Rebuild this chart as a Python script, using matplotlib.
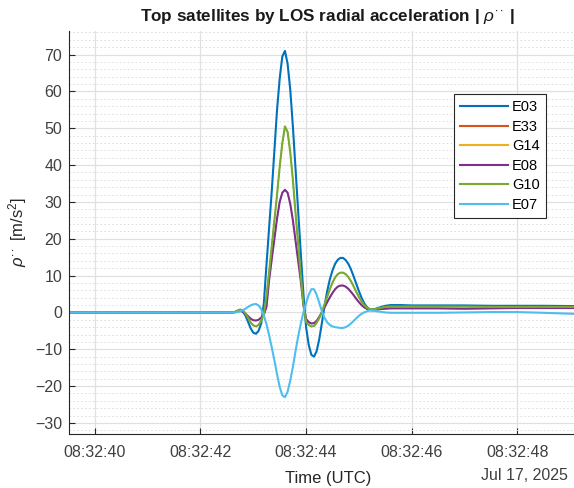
import matplotlib
matplotlib.use("Agg")
import matplotlib.pyplot as plt
from matplotlib.ticker import MultipleLocator

plt.rcParams["font.family"] = ["Liberation Sans", "DejaVu Sans"]
plt.rcParams["mathtext.fontset"] = "custom"
plt.rcParams["mathtext.rm"] = "Liberation Sans"
plt.rcParams["mathtext.it"] = "Liberation Sans:italic"

# time in seconds after 08:32:00 UTC, Jul 17 2025
t = [39.5, 40.5, 41.5, 42.5, 42.6,
     42.65, 42.7, 42.75, 42.8, 42.85, 42.9, 42.95, 43.0, 43.05, 43.1, 43.15,
     43.2, 43.25, 43.3, 43.35, 43.4, 43.45, 43.5, 43.55, 43.6, 43.65, 43.7,
     43.75, 43.8, 43.85, 43.9, 43.95, 44.0, 44.05, 44.1, 44.15, 44.2, 44.25,
     44.3, 44.35, 44.4, 44.45, 44.5, 44.55, 44.6, 44.65, 44.7, 44.75, 44.8,
     44.85, 44.9, 44.95, 45.0, 45.05, 45.1, 45.15, 45.2, 45.25, 45.3,
     45.4, 45.5, 45.6, 45.8, 46.0, 46.5, 47.0, 47.5, 48.0, 48.5, 49.3]

e03 = [0, 0, 0, 0, 0,
       0.1, 0.4, 0.6, 0.3, -0.8, -2.5, -4.3, -5.5, -5.8, -5.0, -3.0,
       2.5, 13, 23, 33, 44, 55, 63.5, 69.5, 71, 67.5, 60.5,
       50.5, 39, 27.5, 16, 5, -4, -8.8, -11.5, -12, -10.5, -7.2,
       -2.8, 1.8, 5.8, 9, 11.4, 13.2, 14.3, 14.8, 14.8, 14.2, 13.2,
       11.7, 9.8, 7.8, 5.8, 4.0, 2.5, 1.5, 0.9, 0.8, 0.9,
       1.4, 1.8, 2.0, 2.0, 1.9, 1.9, 1.9, 1.8, 1.8, 1.8, 1.7]

g10 = [0, 0, 0, 0, 0,
       0.1, 0.5, 0.8, 0.6, -0.2, -1.4, -2.7, -3.5, -3.8, -3.4, -2.2,
       -0.5, 4.5, 11, 18, 25, 32, 39.5, 46, 50.5, 49, 43.5,
       36, 27, 18.5, 10, 2, -2.5, -3.4, -3.8, -3.7, -2.8, -1.5,
       0.2, 2.2, 4.3, 6.3, 8.1, 9.5, 10.4, 10.8, 10.8, 10.4, 9.6,
       8.5, 7.1, 5.6, 4.2, 3.0, 2.0, 1.3, 0.9, 0.8, 0.9,
       1.2, 1.5, 1.6, 1.6, 1.6, 1.6, 1.6, 1.5, 1.5, 1.5, 1.5]

e08 = [0, 0, 0, 0, 0,
       0.1, 0.3, 0.4, 0.2, -0.3, -1.0, -1.7, -2.1, -2.2, -2.0, -1.4,
       -0.6, 1.5, 8.8, 14.5, 20, 25.5, 30, 32.5, 33.3, 32.5, 29.5,
       25, 19.5, 14, 8.5, 2, -1.8, -2.6, -3.0, -2.9, -2.3, -1.2,
       0.1, 1.4, 2.8, 4.1, 5.3, 6.3, 7.0, 7.3, 7.3, 7.0, 6.4,
       5.6, 4.7, 3.7, 2.8, 2.0, 1.4, 1.0, 0.7, 0.6, 0.7,
       0.9, 1.0, 1.1, 1.1, 1.1, 1.1, 1.0, 1.1, 1.2, 1.2, 1.2]

e07 = [0, 0, 0, 0, 0,
       0, 0.1, 0.3, 0.6, 1.0, 1.5, 1.9, 2.2, 2.3, 1.9, 0.9,
       -0.8, -3.2, -6.2, -9.5, -13, -16.8, -20.2, -22.5, -23, -21.5, -18.5,
       -14.8, -10.5, -6.5, -3, 0, 2.5, 4.8, 6.3, 6.3, 4.8, 2.6,
       0.3, -1.5, -2.7, -3.4, -3.8, -4.0, -4.1, -4.2, -4.2, -4.0, -3.6,
       -3.0, -2.3, -1.6, -0.9, -0.4, 0.0, 0.3, 0.5, 0.5, 0.4,
       0.2, 0.0, -0.1, -0.1, -0.1, -0.1, 0.0, 0.1, 0.1, -0.1, -0.5]

# E33 and G14 are not visible: they sit under G10 and E08
e33 = g10
g14 = e08

names = ["E03", "E33", "G14", "E08", "G10", "E07"]
series = [e03, e33, g14, e08, g10, e07]
colors = ["#0072BD", "#D95319", "#EDB120", "#7E2F8E", "#77AC30", "#4DBEEE"]
hidden = ["E33", "G14"]

xticks = [40, 42, 44, 46, 48]
xticklabels = ["08:32:40", "08:32:42", "08:32:44", "08:32:46", "08:32:48"]
yticks = [-30, -20, -10, 0, 10, 20, 30, 40, 50, 60, 70]

fig = plt.figure(figsize=(5.74, 4.88), dpi=100)
ax = fig.add_axes([69 / 574, 54 / 488, 518 / 574, 403 / 488])

for name, y, c in zip(names, series, colors):
    lw = 0.8 if name in hidden else 1.5
    ax.plot(t, y, color=c, lw=lw, label=name)

ax.set_xlim(39.51, 49.32)
ax.set_ylim(-33, 76.4)
ax.set_xticks(xticks)
ax.set_xticklabels(xticklabels)
ax.set_yticks(yticks)
ax.yaxis.set_minor_locator(MultipleLocator(2))

ax.grid(True, which="major", color="#e0e0e0", lw=0.9)
ax.grid(True, which="minor", axis="y", color="#dadada", lw=0.7,
        linestyle=(0, (1.5, 2.5)))
ax.set_axisbelow(True)

for s in ["top", "right"]:
    ax.spines[s].set_visible(False)
for s in ["left", "bottom"]:
    ax.spines[s].set_color("#262626")
    ax.spines[s].set_linewidth(0.8)

ax.tick_params(which="major", direction="in", length=4, width=0.8,
               color="#262626", labelcolor="#404040", labelsize=11.5)
ax.tick_params(axis="x", pad=8)
ax.tick_params(axis="y", pad=5)
ax.tick_params(which="minor", length=0)

ax.set_title(r"Top satellites by LOS radial acceleration | $\rho^{\cdot\cdot}$ |",
             fontsize=12.3, fontweight="bold", color="#1a1a1a", pad=7)
ax.set_xlabel("Time (UTC)", fontsize=12, color="#262626", labelpad=8)
ax.set_ylabel(r"$\rho^{\cdot\cdot}$ [m/s$^2$]", fontsize=12, color="#262626",
              labelpad=4)
fig.text(568 / 574, 1 - 475 / 488, "Jul 17, 2025", ha="right", va="center",
         fontsize=11.5, color="#404040")

leg = ax.legend(loc="upper left", bbox_to_anchor=(0.743, 0.843),
                borderaxespad=0, fontsize=10.5, fancybox=False, framealpha=1,
                handlelength=3.3, handletextpad=0.3, labelspacing=0.38,
                borderpad=0.4)
leg.get_frame().set_edgecolor("#262626")
leg.get_frame().set_linewidth(0.8)
for line in leg.get_lines():
    line.set_linewidth(1.5)

fig.savefig("out.png", dpi=100)
